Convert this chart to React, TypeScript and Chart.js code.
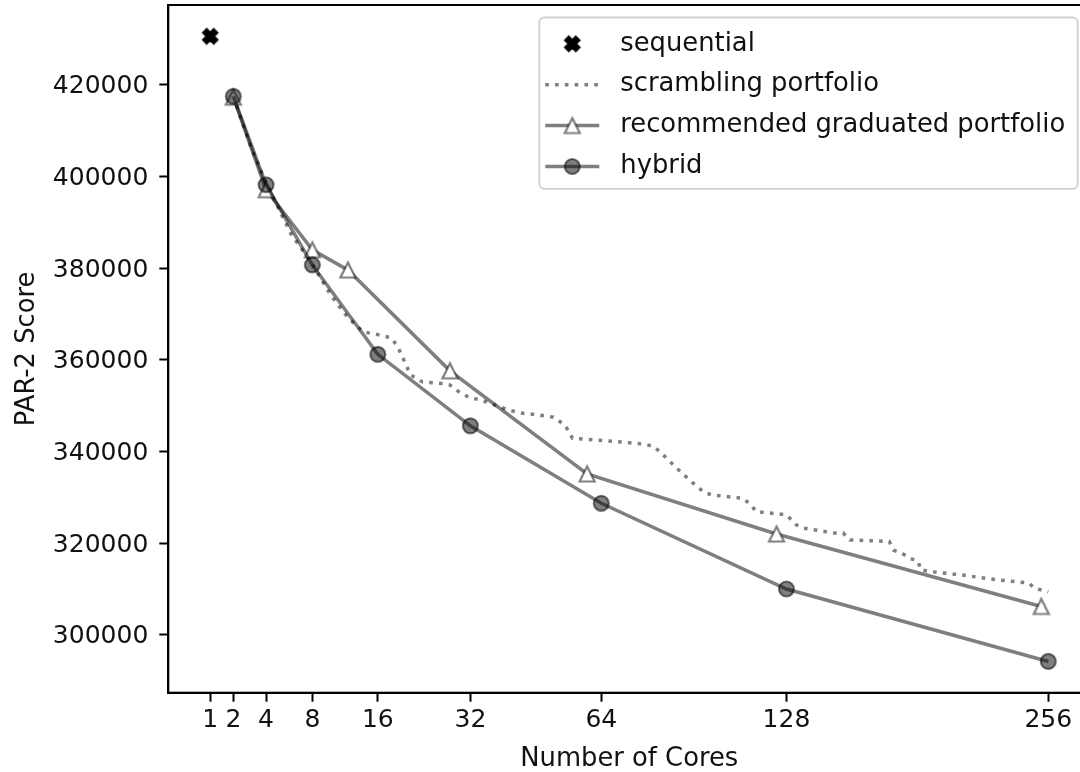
import { useEffect, useRef } from 'react';
import { Chart, LinearScale, registerables } from 'chart.js';

Chart.register(...registerables);

// Square-root axis: positions follow sqrt(value) so core counts spread out.
class SqrtScale extends LinearScale {
  static id = 'sqrt';
  static defaults = {};

  getPixelForValue(value: number) {
    if (value === null || value === undefined || isNaN(value)) return NaN;
    const a = Math.sqrt(this.min);
    const b = Math.sqrt(this.max);
    return this.getPixelForDecimal((Math.sqrt(value) - a) / (b - a));
  }

  getValueForPixel(pixel: number) {
    const a = Math.sqrt(this.min);
    const b = Math.sqrt(this.max);
    const s = a + this.getDecimalForPixel(pixel) * (b - a);
    return s * s;
  }
}
Chart.register(SqrtScale as any);

// ---- data ----
const CORE_TICKS = [1, 2, 4, 8, 16, 32, 64, 128, 256];
const SCORE_TICKS = [300000, 320000, 340000, 360000, 380000, 400000, 420000];

const SEQUENTIAL_CORES = [1];
const SEQUENTIAL_SCORE = [430600];

const SCRAMBLING_CORES = [
  2, 3, 4, 6, 8, 10, 12, 14, 16, 18, 19, 20, 21, 23, 27, 28, 30, 32, 34, 37,
  40, 43, 47, 51, 54, 56, 59, 68, 77, 80, 84, 88, 93, 97, 100, 111, 114, 116,
  128, 132, 135, 148, 152, 155, 173, 175, 179, 183, 187, 188, 193, 208, 228,
  245, 248, 253, 256,
];
const SCRAMBLING_SCORE = [
  417400, 406300, 398600, 387400, 380900, 374000, 369200, 366100, 365500,
  364800, 362800, 359800, 356700, 355200, 354800, 354500, 352800, 351700,
  351300, 350200, 349100, 348400, 348000, 347500, 345800, 342900, 342700,
  342200, 341600, 341100, 338600, 336000, 333100, 331000, 330500, 329800,
  328400, 326900, 326200, 324000, 323300, 322200, 322200, 320700, 320400,
  318500, 317800, 316700, 316000, 314200, 313800, 313100, 312000, 311300,
  310200, 309700, 309400,
];

const GRADUATED_CORES = [2, 4, 8, 12, 28, 60, 124, 252];
const GRADUATED_SCORE = [417300, 397100, 384000, 379600, 357600, 335100, 322000, 306200];

const HYBRID_CORES = [2, 4, 8, 16, 32, 64, 128, 256];
const HYBRID_SCORE = [417500, 398200, 380700, 361200, 345600, 328700, 310000, 294200];

// axis limits (5% padding in sqrt space / value space)
const X_MIN = 0.25 * 0.25;
const X_MAX = 16.75 * 16.75;
const Y_MIN = 287380;
const Y_MAX = 437420;

const FONT_FAMILY = "'DejaVu Sans', sans-serif";
const TICK_SIZE = 25;
const LABEL_SIZE = 25.8;
const TEXT_COLOR = '#111111';
const SERIES_GREY = 'rgba(0,0,0,0.5)';

const zip = (xs: number[], ys: number[]) => xs.map((x, i) => ({ x, y: ys[i] }));

function makeXMarker(): HTMLCanvasElement {
  const c = document.createElement('canvas');
  c.width = 24;
  c.height = 24;
  const ctx = c.getContext('2d')!;
  ctx.translate(12, 12);
  ctx.rotate(Math.PI / 4);
  const u = 15 / 6;
  const pts = [[-1, -3], [1, -3], [1, -1], [3, -1], [3, 1], [1, 1], [1, 3], [-1, 3], [-1, 1], [-3, 1], [-3, -1], [-1, -1]];
  ctx.beginPath();
  pts.forEach(([px, py], i) => (i ? ctx.lineTo(px * u, py * u) : ctx.moveTo(px * u, py * u)));
  ctx.closePath();
  ctx.fillStyle = '#000';
  ctx.fill();
  ctx.lineWidth = 2.2;
  ctx.lineJoin = 'miter';
  ctx.strokeStyle = '#000';
  ctx.stroke();
  return c;
}

function makeTriangleMarker(): HTMLCanvasElement {
  const c = document.createElement('canvas');
  c.width = 28;
  c.height = 28;
  const ctx = c.getContext('2d')!;
  ctx.translate(14, 14);
  const h = 7.5;
  ctx.beginPath();
  ctx.moveTo(0, -h);
  ctx.lineTo(-h, h);
  ctx.lineTo(h, h);
  ctx.closePath();
  ctx.fillStyle = '#ffffff';
  ctx.fill();
  ctx.lineWidth = 2.2;
  ctx.lineJoin = 'miter';
  ctx.strokeStyle = SERIES_GREY;
  ctx.stroke();
  return c;
}

// Full rectangular frame around the plot area (top/right spines too).
const framePlugin = {
  id: 'frame',
  afterDatasetsDraw(chart: any) {
    const { ctx, chartArea } = chart;
    ctx.save();
    ctx.strokeStyle = '#000';
    ctx.lineWidth = 2;
    ctx.strokeRect(chartArea.left, chartArea.top, chartArea.right - chartArea.left, chartArea.bottom - chartArea.top);
    ctx.restore();
  },
};

// Boxed legend in the upper right with line + marker handles.
const boxLegendPlugin = {
  id: 'boxLegend',
  afterDraw(chart: any) {
    const { ctx, chartArea } = chart;
    const sets = chart.data.datasets as any[];
    ctx.save();
    ctx.font = `${LABEL_SIZE}px ${FONT_FAMILY}`;
    const maxW = Math.max(...sets.map((d) => ctx.measureText(d.label).width));
    const pad = 10;
    const handleInset = 6;
    const handleLen = 54;
    const textPad = 21;
    const rowH = 28.6;
    const gap = 12.3;
    const right = chartArea.right - 12.5;
    const top = chartArea.top + 12.5;
    const width = handleInset + handleLen + textPad + maxW + 12.5;
    const left = right - width;
    const height = pad * 2 + sets.length * rowH + (sets.length - 1) * gap;

    // frame
    const r = 5;
    ctx.beginPath();
    ctx.moveTo(left + r, top);
    ctx.lineTo(right - r, top);
    ctx.arcTo(right, top, right, top + r, r);
    ctx.lineTo(right, top + height - r);
    ctx.arcTo(right, top + height, right - r, top + height, r);
    ctx.lineTo(left + r, top + height);
    ctx.arcTo(left, top + height, left, top + height - r, r);
    ctx.lineTo(left, top + r);
    ctx.arcTo(left, top, left + r, top, r);
    ctx.closePath();
    ctx.fillStyle = 'rgba(255,255,255,0.8)';
    ctx.fill();
    ctx.lineWidth = 1.8;
    ctx.strokeStyle = '#d0d0d0';
    ctx.stroke();

    const hx0 = left + handleInset;
    const hx1 = hx0 + handleLen;
    const hxm = (hx0 + hx1) / 2;
    const tx = hx1 + textPad;

    sets.forEach((d, i) => {
      const cy = top + pad + rowH / 2 + 2 + i * (rowH + gap);
      if (d.showLine !== false) {
        ctx.save();
        ctx.beginPath();
        ctx.moveTo(hx0, cy);
        ctx.lineTo(hx1, cy);
        ctx.strokeStyle = d.borderColor;
        ctx.lineWidth = d.borderWidth;
        ctx.setLineDash(d.borderDash || []);
        ctx.lineCap = 'butt';
        ctx.stroke();
        ctx.restore();
      }
      const ps = d.pointStyle;
      if (ps && typeof ps !== 'string') {
        ctx.drawImage(ps, hxm - ps.width / 2, cy - ps.height / 2);
      } else if (ps === 'circle' && d.pointRadius > 0) {
        ctx.beginPath();
        ctx.arc(hxm, cy, d.pointRadius, 0, Math.PI * 2);
        ctx.fillStyle = d.pointBackgroundColor;
        ctx.fill();
        ctx.lineWidth = d.pointBorderWidth;
        ctx.strokeStyle = d.pointBorderColor;
        ctx.stroke();
      }
      ctx.fillStyle = TEXT_COLOR;
      ctx.textBaseline = 'middle';
      ctx.textAlign = 'left';
      ctx.fillText(d.label, tx, cy);
    });
    ctx.restore();
  },
};

export default function App() {
  const ref = useRef<HTMLCanvasElement | null>(null);

  useEffect(() => {
    if (!ref.current) return;
    const xMarker = makeXMarker();
    const triMarker = makeTriangleMarker();
    const tickFont = { family: FONT_FAMILY, size: TICK_SIZE };
    const labelFont = { family: FONT_FAMILY, size: LABEL_SIZE, lineHeight: 1.0 };

    const chart = new Chart(ref.current, {
      type: 'line',
      data: {
        datasets: [
          {
            label: 'sequential',
            data: zip(SEQUENTIAL_CORES, SEQUENTIAL_SCORE),
            showLine: false,
            pointStyle: xMarker as any,
            pointRadius: 8,
            borderColor: '#000',
            order: 4,
          },
          {
            label: 'scrambling portfolio',
            data: zip(SCRAMBLING_CORES, SCRAMBLING_SCORE),
            borderColor: SERIES_GREY,
            borderWidth: 3.5,
            borderDash: [3.6, 6.2],
            pointRadius: 0,
            tension: 0,
            order: 3,
          },
          {
            label: 'recommended graduated portfolio',
            data: zip(GRADUATED_CORES, GRADUATED_SCORE),
            borderColor: SERIES_GREY,
            borderWidth: 3.5,
            pointStyle: triMarker as any,
            pointRadius: 9,
            tension: 0,
            order: 2,
          },
          {
            label: 'hybrid',
            data: zip(HYBRID_CORES, HYBRID_SCORE),
            borderColor: SERIES_GREY,
            borderWidth: 3.5,
            pointStyle: 'circle',
            pointRadius: 7.5,
            pointBorderWidth: 2.2,
            pointBackgroundColor: SERIES_GREY,
            pointBorderColor: SERIES_GREY,
            tension: 0,
            order: 1,
          },
        ] as any,
      },
      options: {
        animation: false,
        responsive: false,
        maintainAspectRatio: false,
        events: [],
        layout: { autoPadding: false, padding: { left: 0, top: 5, right: 9.8, bottom: 0 } },
        plugins: { legend: { display: false }, tooltip: { enabled: false } },
        scales: {
          x: {
            type: 'sqrt' as any,
            min: X_MIN,
            max: X_MAX,
            bounds: 'data',
            afterBuildTicks: (s: any) => {
              s.ticks = CORE_TICKS.map((v) => ({ value: v }));
            },
            afterFit: (s: any) => {
              s.height = 79.3;
              s.paddingLeft = 0;
              s.paddingRight = 0;
            },
            ticks: {
              callback: (v: any) => String(v),
              autoSkip: false,
              maxRotation: 0,
              minRotation: 0,
              font: tickFont,
              color: TEXT_COLOR,
              padding: 4,
            },
            grid: { drawOnChartArea: false, drawTicks: true, tickLength: 9, tickWidth: 2, tickColor: '#000' },
            border: { display: true, color: '#000', width: 2 },
            title: { display: true, text: 'Number of Cores', font: labelFont, color: TEXT_COLOR, padding: { top: 0, bottom: 0 } },
          } as any,
          y: {
            type: 'linear',
            min: Y_MIN,
            max: Y_MAX,
            bounds: 'data',
            afterBuildTicks: (s: any) => {
              s.ticks = SCORE_TICKS.map((v) => ({ value: v }));
            },
            afterFit: (s: any) => {
              s.width = 168.3;
              s.paddingTop = 0;
              s.paddingBottom = 0;
            },
            ticks: { callback: (v: any) => String(v), font: tickFont, color: TEXT_COLOR, padding: 11, labelOffset: 2 },
            grid: { drawOnChartArea: false, drawTicks: true, tickLength: 9, tickWidth: 2, tickColor: '#000' },
            border: { display: true, color: '#000', width: 2 },
            title: {
              display: true,
              text: 'PAR-2 Score',
              font: { ...labelFont, lineHeight: 1.2 },
              color: TEXT_COLOR,
              padding: { top: 12, bottom: 0 },
            },
          },
        },
      },
      plugins: [framePlugin, boxLegendPlugin],
    });

    return () => chart.destroy();
  }, []);

  return (
    <div
      style={{
        position: 'fixed',
        left: 0,
        top: 0,
        width: 1080,
        height: 772,
        overflow: 'hidden',
        background: '#ffffff',
      }}
    >
      <canvas ref={ref} width={1100} height={772} style={{ width: '1100px', height: '772px', display: 'block' }} />
    </div>
  );
}
